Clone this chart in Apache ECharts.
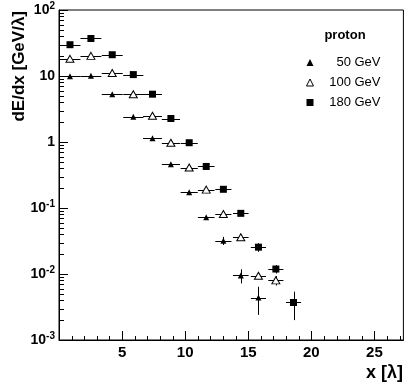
<!DOCTYPE html>
<html>
<head>
<meta charset="utf-8">
<script src="https://cdn.jsdelivr.net/npm/echarts@6/dist/echarts.min.js"></script>
<style>html,body{margin:0;padding:0;background:#fff;}#c{width:404px;height:385px;}</style>
</head>
<body>
<div id="c"></div>
<script>
// ---- data ----
const binX    = [0.87, 2.53, 4.22, 5.89, 7.41, 8.87, 10.32, 11.67, 13.03, 14.41, 15.81, 17.19, 18.59];
const binHalf = [0.83, 0.83, 0.83, 0.80, 0.75, 0.72, 0.68, 0.66, 0.64, 0.62, 0.60, 0.60, 0.60];
const seriesNames = ['50 GeV', '100 GeV', '180 GeV'];
const e50   = [9.9, 10.1, 5.3, 2.42, 1.14, 0.459, 0.173, 0.0723, 0.032, 0.0095, 0.0044];
const err50 = [0.2, 0.2, 0.1, 0.05, 0.02, 0.008, 0.003, 0.0015, 0.0045, 0.0023, 0.002];
const e100   = [18.2, 20.2, 11.1, 5.3, 2.5, 0.975, 0.41, 0.19, 0.081, 0.036, 0.0094, 0.008];
const err100 = [0.3, 0.3, 0.2, 0.1, 0.04, 0.015, 0.006, 0.003, 0.0015, 0.0015, 0.0007, 0.0013];
const e180   = [29.8, 37, 21, 10.5, 5.3, 2.27, 0.975, 0.426, 0.192, 0.083, 0.0255, 0.0119, 0.0037];
const err180 = [0.5, 0.6, 0.3, 0.15, 0.08, 0.03, 0.012, 0.005, 0.003, 0.0015, 0.0038, 0.0017, 0.0017];
const xMajorTicks = [5, 10, 15, 20, 25];
const xMinorTicks = [1,2,3,4,6,7,8,9,11,12,13,14,16,17,18,19,21,22,23,24,26,27];
const yMinorTicks = [0.002,0.003,0.004,0.005,0.006,0.007,0.008,0.009,
                     0.02,0.03,0.04,0.05,0.06,0.07,0.08,0.09,
                     0.2,0.3,0.4,0.5,0.6,0.7,0.8,0.9,
                     2,3,4,5,6,7,8,9,
                     20,30,40,50,60,70,80,90];

const FONT = 'Liberation Sans';
function pts(vals){ return vals.map((v,i)=>[binX[i], v]); }
function errs(vals, e){ return vals.map((v,i)=>[binX[i], v, binHalf[i], e[i]]); }

function errRender(params, api){
  const x = api.value(0), y = api.value(1), h = api.value(2), e = api.value(3);
  const l = api.coord([x - h, y]), r = api.coord([x + h, y]);
  const t = api.coord([x, y + e]), b = api.coord([x, Math.max(y - e, 1e-6)]);
  const st = {stroke:'#000', lineWidth:1};
  return {type:'group', children:[
    {type:'line', shape:{x1:l[0], y1:Math.round(l[1])+0.5, x2:r[0], y2:Math.round(l[1])+0.5}, style:st},
    {type:'line', shape:{x1:Math.round(t[0])+0.5, y1:t[1], x2:Math.round(t[0])+0.5, y2:b[1]}, style:st}
  ]};
}

const chart = echarts.init(document.getElementById('c'), null, {renderer:'canvas'});
const option = {
  animation:false,
  backgroundColor:'#fff',
  grid:{left:59, top:10, width:344.4, height:330, show:true, borderColor:'#000', borderWidth:1, backgroundColor:'transparent'},
  xAxis:{
    type:'value', min:0, max:27.3, interval:5,
    axisLine:{show:true, lineStyle:{color:'#000', width:1}},
    axisTick:{show:true, inside:true, length:9, lineStyle:{color:'#000'}},
    axisLabel:{show:true, showMinLabel:false, showMaxLabel:false, margin:5, color:'#000',
      fontFamily:FONT, fontWeight:'bold', fontSize:15,
      formatter:(v)=> xMajorTicks.indexOf(Math.round(v))>=0 && Math.abs(v-Math.round(v))<1e-6 ? String(Math.round(v)) : ''},
    splitLine:{show:false}
  },
  yAxis:{
    type:'log', logBase:10, min:0.001, max:100,
    axisLine:{show:true, lineStyle:{color:'#000', width:1}},
    axisTick:{show:true, inside:true, length:9, lineStyle:{color:'#000'}},
    axisLabel:{show:true, margin:4, color:'#000', fontFamily:FONT, fontWeight:'bold', fontSize:14,
      formatter:(v)=>{
        const p = Math.round(Math.log10(v));
        if (p === 0) return '1';
        if (p === 1) return '10';
        return '10{s|' + p + '}';
      },
      rich:{s:{fontSize:10, fontWeight:'bold', fontFamily:FONT, color:'#000', verticalAlign:'bottom', padding:[0,0,7,0]}}
    },
    splitLine:{show:false}
  },
  legend:{
    orient:'vertical', left:301, top:51, padding:5, itemWidth:7, itemHeight:7, itemGap:7, itemTextGap:6,
    data:[
      {name:'50 GeV', icon:'triangle', itemStyle:{color:'#000', borderWidth:0}},
      {name:'100 GeV', icon:'triangle', itemStyle:{color:'#fff', borderColor:'#000', borderWidth:1}},
      {name:'180 GeV', icon:'rect', itemStyle:{color:'#000', borderWidth:0}}
    ],
    formatter:(n)=>'{a|' + n + '}',
    textStyle:{color:'#000', fontFamily:FONT, fontSize:13,
      rich:{a:{width:62, align:'right', fontSize:13, lineHeight:14.5, fontFamily:FONT, color:'#000'}}}
  },
  graphic:[
    {type:'text', x:19, y:11, rotation:Math.PI/2,
     style:{text:'dE/dx [GeV/λ]', font:'bold 17px "Liberation Sans"', fill:'#000', align:'right', verticalAlign:'middle'}},
    {type:'text', x:403, y:373,
     style:{text:'x [λ]', font:'bold 18px "Liberation Sans"', fill:'#000', align:'right', verticalAlign:'middle'}},
    {type:'text', x:345, y:35,
     style:{text:'proton', font:'bold 13px "Liberation Sans"', fill:'#000', align:'center', verticalAlign:'middle'}}
  ],
  series:[
    {type:'custom', name:'xminor', silent:true, clip:false, data:xMinorTicks.map(v=>[v]), encode:{x:0},
     renderItem:(p, api)=>{ const c = api.coord([api.value(0), 0.001]); const x = Math.round(c[0])+0.5;
       return {type:'line', shape:{x1:x, y1:c[1], x2:x, y2:c[1]-4}, style:{stroke:'#000', lineWidth:1}}; }},
    {type:'custom', name:'yminor', silent:true, clip:false, data:yMinorTicks.map(v=>[0, v]), encode:{x:0, y:1},
     renderItem:(p, api)=>{ const c = api.coord([0, api.value(1)]); const y = Math.round(c[1])+0.5;
       return {type:'line', shape:{x1:c[0], y1:y, x2:c[0]+5, y2:y}, style:{stroke:'#000', lineWidth:1}}; }},
    {type:'custom', name:'err50', silent:true, clip:true, data:errs(e50, err50), renderItem:errRender, encode:{x:0, y:1}, z:1},
    {type:'custom', name:'err100', silent:true, clip:true, data:errs(e100, err100), renderItem:errRender, encode:{x:0, y:1}, z:1},
    {type:'custom', name:'err180', silent:true, clip:true, data:errs(e180, err180), renderItem:errRender, encode:{x:0, y:1}, z:1},
    {type:'scatter', name:seriesNames[0], data:pts(e50), symbol:'triangle', symbolSize:[6,6], z:3,
     itemStyle:{color:'#000', opacity:1}},
    {type:'scatter', name:seriesNames[1], data:pts(e100), symbol:'triangle', symbolSize:[8,7], z:3,
     itemStyle:{color:'#fff', borderColor:'#000', borderWidth:1, opacity:1}},
    {type:'scatter', name:seriesNames[2], data:pts(e180), symbol:'rect', symbolSize:[7,7], z:3,
     itemStyle:{color:'#000', opacity:1}}
  ]
};
chart.setOption(option);
</script>
</body>
</html>
